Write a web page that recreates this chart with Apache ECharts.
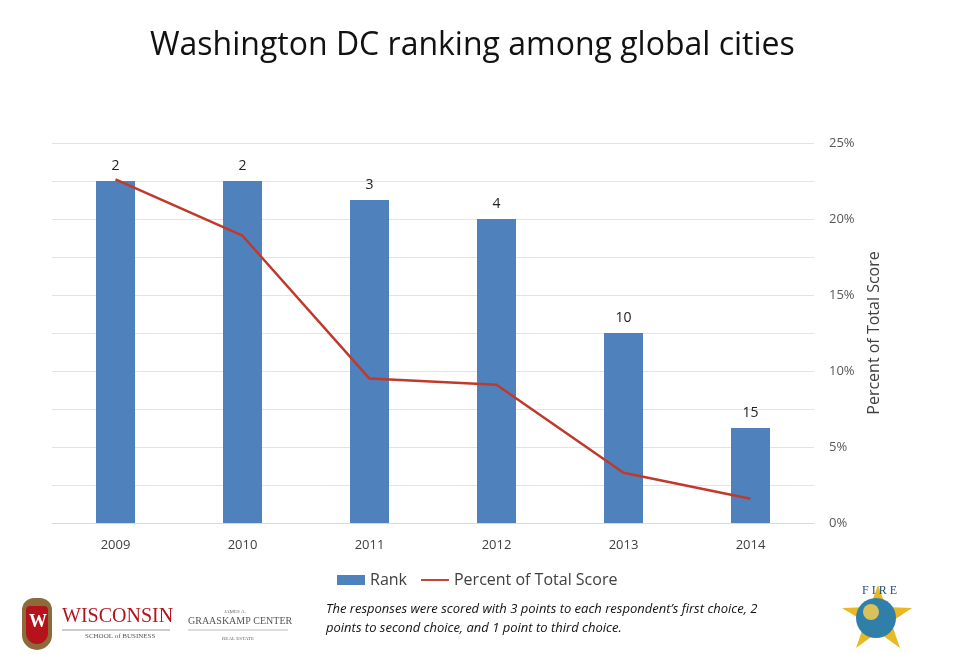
<!DOCTYPE html>
<html>
<head>
<meta charset="utf-8">
<script src="https://cdn.jsdelivr.net/npm/echarts@6/dist/echarts.min.js"></script>
<style>
    html, body { margin: 0; padding: 0; background: #fff; }
    #chart { width: 960px; height: 654px; }
</style>
</head>
<body>
<div id="chart"></div>
<script>
// data
var years = ['2009', '2010', '2011', '2012', '2013', '2014'];
var ranks = [2, 2, 3, 4, 10, 15];              // bar labels
var barHeights = [18, 18, 17, 16, 10, 5];      // bar heights on the hidden left scale (0-20)
var pctScore = [0.226, 0.189, 0.095, 0.091, 0.033, 0.016];
var pctTicks = [0, 0.05, 0.10, 0.15, 0.20, 0.25];

var font = 'Open Sans, Liberation Sans, sans-serif';

(function() {
    var chart = echarts.init(document.getElementById('chart'));

    var option = {
        backgroundColor: '#fff',
        animation: false,
        title: {
            text: 'Washington DC ranking among global cities',
            left: 145,
            top: 25,
            textStyle: { fontFamily: font, fontSize: 32, fontWeight: 'normal', color: '#111' }
        },
        grid: { left: 52, right: 146, top: 143, bottom: 131 },
        legend: {
            bottom: 61,
            left: 332,
            itemGap: 14,
            itemWidth: 28,
            itemHeight: 10,
            textStyle: { fontFamily: font, fontSize: 16, color: '#404040' },
            data: [
                { name: 'Rank', icon: 'rect' },
                { name: 'Percent of Total Score', icon: 'path://M0,4 L30,4 L30,6 L0,6 Z' }
            ]
        },
        xAxis: {
            type: 'category',
            data: years,
            axisLine: { lineStyle: { color: '#d9d9d9' } },
            axisTick: { show: false },
            axisLabel: { fontFamily: font, fontSize: 13, color: '#404040', margin: 16 }
        },
        yAxis: [{
            // hidden scale for the bars, its lines are the 2.5% grid
            type: 'value',
            min: 0,
            max: 20,
            interval: 2,
            axisLine: { show: false },
            axisTick: { show: false },
            axisLabel: { show: false },
            splitLine: { lineStyle: { color: '#e3e3e3', width: 1 } }
        }, {
            type: 'value',
            position: 'right',
            min: pctTicks[0],
            max: pctTicks[pctTicks.length - 1],
            interval: 0.05,
            name: 'Percent of Total Score',
            nameLocation: 'middle',
            nameGap: 52,
            nameRotate: 90,
            nameTextStyle: { fontFamily: font, fontSize: 16, color: '#404040' },
            axisLine: { show: false },
            axisTick: { show: false },
            splitLine: { show: false },
            axisLabel: {
                fontFamily: font, fontSize: 13, color: '#595959', margin: 15,
                formatter: function(v) { return Math.round(v * 100) + '%'; }
            }
        }],
        series: [{
            name: 'Rank',
            type: 'bar',
            yAxisIndex: 0,
            barWidth: 39,
            itemStyle: { color: '#4f81bd' },
            data: barHeights.map(function(h, i) {
                return { value: h, label: { formatter: String(ranks[i]) } };
            }),
            label: {
                show: true,
                position: 'top',
                distance: 8,
                fontFamily: font,
                fontSize: 14,
                color: '#222'
            }
        }, {
            name: 'Percent of Total Score',
            type: 'line',
            yAxisIndex: 1,
            symbol: 'none',
            lineStyle: { color: '#c0392b', width: 2.5 },
            itemStyle: { color: '#c0392b' },
            data: pctScore
        }],
        graphic: [
            // footnote
            {
                type: 'text', left: 326, top: 600,
                style: {
                    text: 'The responses were scored with 3 points to each respondent\u2019s first choice, 2\npoints to second choice, and 1 point to third choice.',
                    fontFamily: font, fontSize: 13, fontStyle: 'italic', lineHeight: 19, fill: '#111'
                }
            },
            // Wisconsin crest (rough)
            {
                type: 'rect', shape: { x: 22, y: 598, width: 30, height: 52, r: [12, 12, 15, 15] },
                style: { fill: '#8c6a3b' }
            },
            {
                type: 'rect', shape: { x: 26, y: 606, width: 22, height: 38, r: [4, 4, 11, 11] },
                style: { fill: '#b5121b' }
            },
            {
                type: 'text', left: 29, top: 613,
                style: { text: 'W', fontFamily: 'Liberation Serif', fontSize: 18, fontWeight: 'bold', fill: '#fff' }
            },
            {
                type: 'text', left: 62, top: 607,
                style: { text: 'WISCONSIN', fontFamily: 'Liberation Serif', fontSize: 20, fill: '#b5121b' }
            },
            {
                type: 'line', shape: { x1: 62, y1: 630, x2: 170, y2: 630 },
                style: { stroke: '#999', lineWidth: 1 }
            },
            {
                type: 'text', left: 85, top: 633,
                style: { text: 'SCHOOL of BUSINESS', fontFamily: 'Liberation Serif', fontSize: 7, fill: '#555' }
            },
            // Graaskamp Center
            {
                type: 'text', left: 224, top: 609,
                style: { text: 'JAMES A.', fontFamily: 'Liberation Serif', fontSize: 5, fill: '#666' }
            },
            {
                type: 'text', left: 188, top: 616,
                style: { text: 'GRAASKAMP CENTER', fontFamily: 'Liberation Serif', fontSize: 10, fill: '#555' }
            },
            {
                type: 'line', shape: { x1: 188, y1: 630, x2: 288, y2: 630 },
                style: { stroke: '#bbb', lineWidth: 1 }
            },
            {
                type: 'text', left: 222, top: 636,
                style: { text: 'REAL ESTATE', fontFamily: 'Liberation Serif', fontSize: 5, fill: '#666' }
            },
            // AFIRE globe (rough)
            {
                type: 'polygon',
                shape: { points: [[878, 585], [886, 607], [912, 608], [891, 622], [900, 648], [878, 632], [856, 648], [865, 622], [842, 608], [870, 607]] },
                style: { fill: '#e8b923' }
            },
            {
                type: 'circle', shape: { cx: 876, cy: 618, r: 20 },
                style: { fill: '#2f7fa8' }
            },
            {
                type: 'circle', shape: { cx: 871, cy: 612, r: 8 },
                style: { fill: '#d9c25a' }
            },
            {
                type: 'text', left: 862, top: 585,
                style: { text: 'F I R E', fontFamily: 'Liberation Serif', fontSize: 12, fill: '#1f4e79' }
            }
        ]
    };

    chart.setOption(option);
})();
</script>
</body>
</html>
